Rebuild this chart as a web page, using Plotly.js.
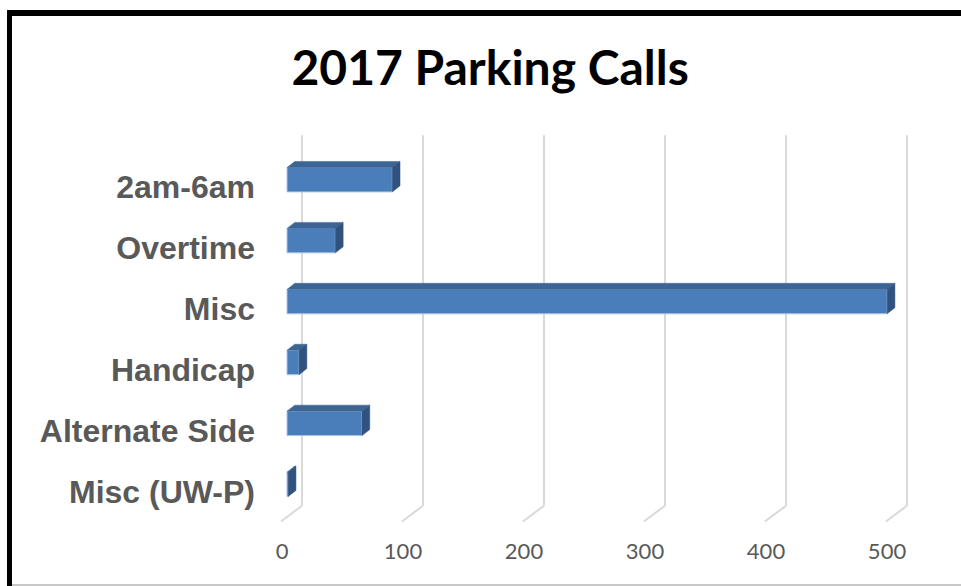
<!DOCTYPE html>
<html>
<head>
<meta charset="utf-8">
<script src="https://cdn.plot.ly/plotly-3.0.1.min.js"></script>
<style>
  html, body { margin: 0; padding: 0; background: #fff; }
  #wrap { position: relative; width: 961px; height: 586px; overflow: hidden; }
  #chart { position: absolute; left: 0; top: 0; width: 961px; height: 586px; }
  #frame { position: absolute; left: 7px; top: 10px; width: 960px; height: 580px;
           border-top: 6px solid #000; border-left: 5px solid #000; pointer-events: none; }
  #bottomline { position: absolute; left: 12px; top: 584px; width: 949px; height: 2px; background: #c8c8c8; }
</style>
</head>
<body>
<div id="wrap">
  <div id="chart"></div>
  <div id="frame"></div>
  <div id="bottomline"></div>
</div>
<script>
// ---- data ----
const categories = ['2am-6am', 'Overtime', 'Misc', 'Handicap', 'Alternate Side', 'Misc (UW-P)'];
const values = [87, 40, 496, 10, 62, 1];
const tickValues = [0, 100, 200, 300, 400, 500];
const tickLabels = ['0', '100', '200', '300', '400', '500'];

// ---- 3D styling parameters (in axis units) ----
const barHalf = 0.2;     // half bar thickness (category units)
const depthX = 6.4;      // depth offset along value axis
const depthY = 0.1;      // depth offset along category axis
const backX = 12.4;      // back wall offset for gridlines
const frontX = -5;       // front floor edge offset
const gridTop = -0.73, gridBackBottom = 5.35, gridFrontBottom = 5.61;

const yIdx = categories.map((c, i) => i);

// top faces and side faces
const topX = [], topY = [], sideX = [], sideY = [];
values.forEach((v, i) => {
  const y0 = i - barHalf, y1 = i + barHalf;
  topX.push(0, v, v + depthX, depthX, 0, null);
  topY.push(y0, y0, y0 - depthY, y0 - depthY, y0, null);
  sideX.push(v, v + depthX, v + depthX, v, v, null);
  sideY.push(y0, y0 - depthY, y1 - depthY, y1, y0, null);
});

const traces = [
  {
    type: 'bar', orientation: 'h',
    x: values, y: yIdx,
    width: barHalf * 2,
    marker: { color: '#4a7ebb', line: { color: '#a9c4e8', width: 1 } },
    hoverinfo: 'x+text', text: categories, textposition: 'none'
  },
  {
    type: 'scatter', mode: 'lines', x: topX, y: topY, fill: 'toself',
    fillcolor: '#3d6594', line: { color: '#3d6594', width: 0.5 }, hoverinfo: 'skip'
  },
  {
    type: 'scatter', mode: 'lines', x: sideX, y: sideY, fill: 'toself',
    fillcolor: '#30527e', line: { color: '#30527e', width: 0.5 }, hoverinfo: 'skip'
  }
];

// gridlines as shapes (back wall vertical + floor slant)
const shapes = [];
tickValues.forEach(t => {
  shapes.push({ type: 'line', xref: 'x', yref: 'y', layer: 'below',
    x0: t + backX, x1: t + backX, y0: gridTop, y1: gridBackBottom,
    line: { color: '#d9d9d9', width: 2 } });
  shapes.push({ type: 'line', xref: 'x', yref: 'y', layer: 'below',
    x0: t + backX, x1: t + frontX, y0: gridBackBottom, y1: gridFrontBottom,
    line: { color: '#d9d9d9', width: 2 } });
});

const layout = {
  width: 961, height: 586,
  margin: { l: 270, r: 31, t: 131, b: 59 },
  paper_bgcolor: '#ffffff', plot_bgcolor: 'rgba(0,0,0,0)',
  showlegend: false,
  title: {
    text: '2017 Parking Calls',
    font: { family: 'Lato', size: 48, color: '#000', weight: 'bold' },
    x: 0.51, xanchor: 'center', xref: 'container',
    y: 1 - 68 / 586, yanchor: 'middle', yref: 'container'
  },
  xaxis: {
    range: [-14.05, 531.4],
    tickvals: tickValues, ticktext: tickLabels,
    showgrid: false, zeroline: false, showline: false, ticks: '',
    tickfont: { family: 'Lato', size: 22, color: '#595959' },
    ticklabelshift: -5, ticklabelstandoff: 9
  },
  yaxis: {
    range: [5.7, -0.8],
    tickvals: yIdx, ticktext: categories,
    showgrid: false, zeroline: false, showline: false, ticks: '',
    tickfont: { family: 'Liberation Sans', size: 32, color: '#595959', weight: 'bold' },
    ticklabelstandoff: 14, ticklabelshift: -7
  },
  shapes: shapes
};

Plotly.newPlot('chart', traces, layout, { displayModeBar: false, staticPlot: true });
</script>
</body>
</html>
